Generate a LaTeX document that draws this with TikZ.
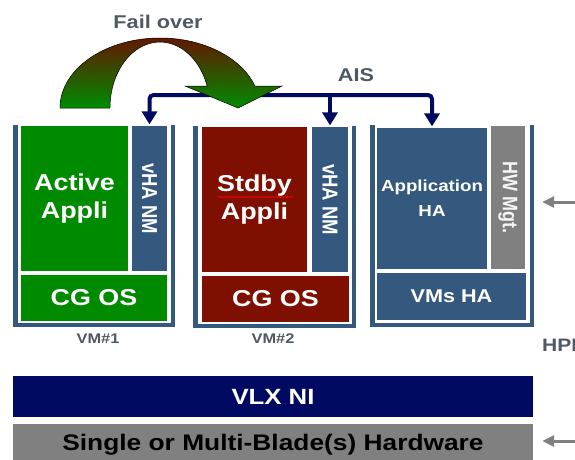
\documentclass[tikz,border=0pt]{standalone}
\usepackage{fontspec}
\setmainfont{Liberation Sans}
\usetikzlibrary{arrows.meta,decorations.pathmorphing,calc}
\definecolor{fgreen}{HTML}{008A00}
\definecolor{fred}{HTML}{7F0F00}
\definecolor{fblue}{HTML}{34587E}
\definecolor{fnavy}{HTML}{000A62}
\definecolor{fgray}{HTML}{808080}
\definecolor{ftext}{HTML}{4E5964}
\definecolor{arcred}{HTML}{6A1000}
\definecolor{arcgreen}{HTML}{008C00}
\newcommand\hs[1]{\scalebox{1.17}[1]{#1}}
\newcommand\vsx[1]{\scalebox{1}[1.17]{#1}}
\newcommand\fs[2]{\fontsize{#1pt}{#2pt}\selectfont\bfseries}
\newcommand\mybox[7]{\node[#6, minimum width={(#4-#2)*1pt}, minimum height={(#5-#3)*1pt}] (#1) at ({(#2+#4)/2},{(#3+#5)/2}) {#7};}
\tikzset{
  boxs/.style={draw=white, line width=1.2pt, inner sep=0pt, text=white, align=center},
  framebox/.style={fill=fblue, inner sep=0pt},
  rtext/.style={rotate=-90, inner sep=0pt, text=white},
  lbl/.style={text=ftext, inner sep=0pt},
  aisline/.style={draw=fnavy, line width=4pt, rounded corners=4pt},
  garr/.style={draw=fgray, line width=3pt, -{Triangle[length=12pt,width=11pt]}}
}
\begin{document}
\begin{tikzpicture}[x=1pt,y=-1pt]
\useasboundingbox (0,0) rectangle (575,460);
\clip (0,0) rectangle (575,460);

% VM frames
\node[framebox, minimum width=162pt, minimum height=202pt] (vm1) at (94,226) {};
\fill[white] (17.5,125) rectangle (170.5,322.5);
\node[framebox, minimum width=163pt, minimum height=202pt] (vm2) at (274.5,227) {};
\fill[white] (197.5,126) rectangle (351.5,323.5);
\node[framebox, minimum width=164pt, minimum height=202pt] (vm3) at (452,226) {};
\fill[white] (374.5,125) rectangle (529.5,322.5);

% VM1
\mybox{act}{20}{125}{129}{272}{boxs, fill=fgreen, font=\fs{23}{28}}{\hs{Active}\\\hs{Appli}}
\mybox{vha1}{131}{125}{168}{272}{boxs, fill=fblue}{}
\node[rtext, font=\fs{18.5}{20}] (vha1t) at (vha1.center) {\vsx{vHA NM}};
\mybox{cg1}{20}{274}{168}{322}{boxs, fill=fgreen, font=\fs{23}{28}}{\hs{CG OS}}
% VM2
\mybox{stb}{201}{126}{308}{273}{boxs, fill=fred, font=\fs{23}{28}}{\hs{Stdby}\\\hs{Appli}}
\mybox{vha2}{311}{126}{349}{273}{boxs, fill=fblue}{}
\node[rtext, font=\fs{18.5}{20}] (vha2t) at (vha2.center) {\vsx{vHA NM}};
\mybox{cg2}{201}{275}{350}{323}{boxs, fill=fred, font=\fs{23}{28}}{\hs{CG OS}}
\draw[red, line width=0.6pt, decorate, decoration={snake, amplitude=0.8pt, segment length=3pt}] (218,197) -- (293,197);
% VM3
\mybox{app3}{376}{127}{488}{270}{boxs, fill=fblue, font=\fs{16}{25}}{\hs{Application}\\\hs{HA}}
\mybox{hwm}{490}{125}{526}{270}{boxs, fill=fgray}{}
\node[rtext, text=white!92!gray, font=\fs{18}{20}] (hwmt) at (hwm.center) {\vsx{HW Mgt.}};
\mybox{vmsha}{376}{272}{527}{321}{boxs, fill=fblue, font=\fs{18.5}{22}}{\hs{VMs HA}}

% labels
\node[lbl, font=\fs{14}{16}] (vm1l) at (98,339) {\hs{VM\#1}};
\node[lbl, font=\fs{14}{16}] (vm2l) at (273,339) {\hs{VM\#2}};
\node[lbl, font=\fs{18}{20}, anchor=west] (hpi) at (542,345) {\hs{HPI}};
\node[lbl, font=\fs{18.5}{20}] (fail) at (158,22) {\hs{Fail over}};
\node[lbl, font=\fs{18.5}{20}] (ais) at (356,75) {\hs{AIS}};

% bottom layers
\mybox{vlx}{13}{376}{533}{417}{inner sep=0pt, fill=fnavy, text=white, font=\fs{22}{24}}{\hs{VLX NI}}
\mybox{hw}{13}{424}{533}{466}{inner sep=0pt, fill=fgray, text=black, font=\fs{22.5}{24}}{\hs{Single or Multi-Blade(s) Hardware}}

% AIS bus
\coordinate (bus) at (330,95);
\draw[aisline, {Triangle[length=13pt,width=15pt]}-{Triangle[length=13pt,width=15pt]}]
  (vha1.north) -- (vha1.north |- bus) -- (app3.north |- bus) -- (app3.north);
\draw[aisline, -{Triangle[length=13pt,width=15pt]}] (vha2.north |- bus) -- (vha2.north);

% fail over arrow (drawn above the bus)
\path[draw=black, line width=0.5pt, top color=arcred, bottom color=arcgreen]
  (60,108) arc[start angle=180, end angle=341.7, x radius=100, y radius=70]
  -- (282,86) -- (238,108) -- (185,86) -- (207.1,86)
  arc[start angle=340.5, end angle=180, x radius=50, y radius=66] -- cycle;

% right arrows
\coordinate (hpiin) at (590,202);
\draw[garr] (hpiin) -- ($(vm3.east |- hpiin)+(8,0)$);
\coordinate (hwin) at (590,441);
\draw[garr] (hwin) -- ($(hw.east |- hwin)+(9,0)$);
\end{tikzpicture}
\end{document}
